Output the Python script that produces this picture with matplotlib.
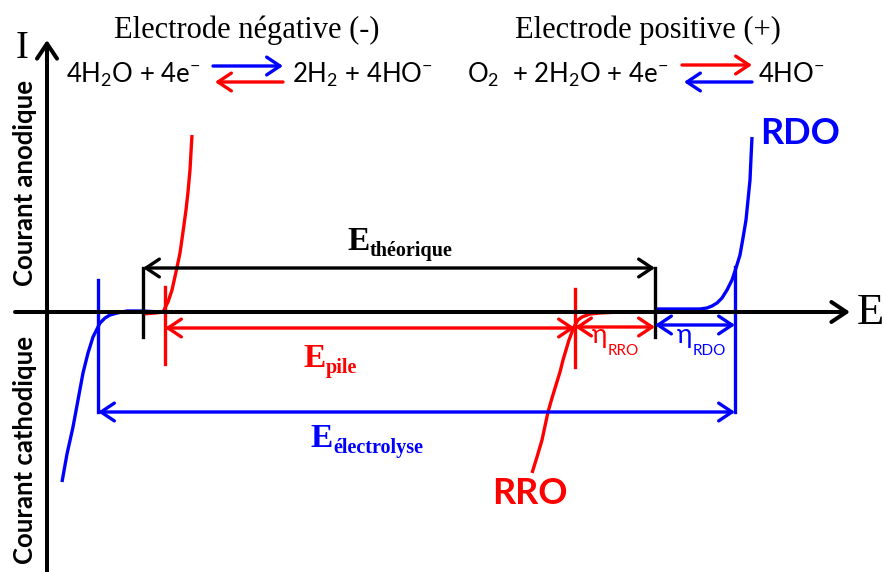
import matplotlib.pyplot as plt

plt.rcParams['mathtext.default'] = 'regular'

SERIF = 'Liberation Serif'
SANS = 'Lato'
RED = '#ff0000'
BLUE = '#0000ff'

# E (potential) / I (current) points, arbitrary units
# red: oxidation of H2 (left) and reduction of O2 (RRO, right)
h2_ox_E = [96, 108, 116, 121, 125, 129, 133, 136, 139, 141, 143, 144, 145]
h2_ox_I = [-2, -1, 0, 10, 22, 40, 59, 80, 102, 120, 142, 160, 177]
rro_E = [485, 490, 495, 498, 501, 505, 509, 513, 516, 519, 522, 525, 528, 531, 535, 543, 553, 573, 603]
rro_I = [-161, -145, -128, -114, -100, -86, -73, -60, -48, -38, -28, -20, -13, -8, -5, -2, -1, 0, 0]
# blue: reduction of water (left) and oxidation of water (RDO, right)
h2o_red_E = [15, 20, 26, 31, 36, 41, 46, 50, 53, 58, 63, 70, 80, 95, 113]
h2o_red_I = [-170, -142, -115, -88, -61, -41, -25, -17, -11, -6, -3, -1, 1, 1, 0]
rdo_E = [608, 630, 653, 660, 665, 670, 675, 680, 685, 689, 693, 696, 699, 701, 703, 704, 705]
rdo_I = [3, 3, 3, 4, 6, 9, 14, 22, 32, 44, 57, 74, 92, 112, 132, 154, 175]

# potential markers (left, right) and their vertical extent
E_theo = [96, 608]
E_pile = [118, 528]
E_elec = [51, 688]
theo_span = [(-25, 44), (-25, 44)]
pile_span = [(-52, 25), (-55, 23)]
elec_span = [(-100, 32), (-100, 45)]
theo_level = 44
pile_level = -16
eta_rro_level = -15
eta_rdo_level = -13
elec_level = -100


def arrow(ax, x0, y0, x1, y1, color, style='<->', lw=2.4, scale=16):
    ax.annotate('', xy=(x1, y1), xytext=(x0, y0),
                arrowprops=dict(arrowstyle=style + ',head_length=0.6,head_width=0.4',
                                color=color, lw=lw, shrinkA=0, shrinkB=0,
                                mutation_scale=scale))


def sub_label(ax, x, y, main, sub, color, family, size, sub_size, weight='bold', dy=1):
    t = ax.text(x, y, main, color=color, family=family, size=size,
                weight=weight, ha='left', va='baseline')
    ax.annotate(sub, xy=(1, 0), xycoords=t, xytext=(0.5, dy),
                textcoords='offset points', color=color, family=family,
                size=sub_size, weight=weight, ha='left', va='baseline')


fig = plt.figure(figsize=(8.84, 5.72), dpi=100)
ax = fig.add_axes([0, 0, 1, 1])
ax.set_xlim(-47, 837)
ax.set_ylim(-260, 312)
ax.axis('off')

# axes
arrow(ax, -32, 0, 803, 0, 'black', style='->', lw=2.9, scale=18)
arrow(ax, 0, -262, 0, 272, 'black', style='->', lw=2.9, scale=18)
ax.text(810, -1, 'E', family=SERIF, size=32, ha='left', va='center')
ax.text(-25, 264, 'I', family=SERIF, size=28, ha='center', va='center')
ax.text(-22, 129, 'Courant anodique', family=SANS, weight='bold', size=18.5,
        rotation=90, ha='center', va='center')
ax.text(-22, -138, 'Courant cathodique', family=SANS, weight='bold', size=18.5,
        rotation=90, ha='center', va='center')

# curves
ax.plot(h2o_red_E, h2o_red_I, color=BLUE, lw=2.4, solid_capstyle='butt')
ax.plot(rdo_E, rdo_I, color=BLUE, lw=2.4, solid_capstyle='butt')
ax.plot(h2_ox_E, h2_ox_I, color=RED, lw=2.4, solid_capstyle='butt')
ax.plot(rro_E, rro_I, color=RED, lw=2.4, solid_capstyle='butt')

# potential markers
for E, span in zip(E_theo, theo_span):
    ax.plot([E, E], span, color='black', lw=2.4)
for E, span in zip(E_pile, pile_span):
    ax.plot([E, E], span, color=RED, lw=2.4)
for E, span in zip(E_elec, elec_span):
    ax.plot([E, E], span, color=BLUE, lw=2.4)

arrow(ax, E_theo[0], theo_level, E_theo[1], theo_level, 'black')
arrow(ax, E_pile[0], pile_level, E_pile[1], pile_level, RED)
arrow(ax, E_pile[1], eta_rro_level, E_theo[1], eta_rro_level, RED)
arrow(ax, E_theo[1], eta_rdo_level, E_elec[1], eta_rdo_level, BLUE)
arrow(ax, E_elec[0], elec_level, E_elec[1], elec_level, BLUE)

sub_label(ax, 300, 62, 'E', 'théorique', 'black', SERIF, 24, 14.5)
sub_label(ax, 256, -55, 'E', 'pile', RED, SERIF, 24, 14.5)
sub_label(ax, 263, -135, 'E', 'électrolyse', BLUE, SERIF, 24, 14.5)
sub_label(ax, 545, -31, 'η', 'RRO', RED, SANS, 19, 11, weight='normal', dy=-5)
sub_label(ax, 630, -31, 'η', 'RDO', BLUE, SANS, 19, 11, weight='normal', dy=-5)

ax.text(713, 179, 'RDO', color=BLUE, family=SANS, weight='bold', size=26,
        ha='left', va='center')
ax.text(445, -181, 'RRO', color=RED, family=SANS, weight='bold', size=26,
        ha='left', va='center')

# electrode half reactions
ax.text(200, 282, 'Electrode négative (-)', family=SERIF, size=22,
        ha='center', va='center')
ax.text(601, 282, 'Electrode positive (+)', family=SERIF, size=22,
        ha='center', va='center')
ax.text(19, 237, '4H$_2$O + 4e$^{-}$', family=SANS, size=18.5, ha='left', va='center')
ax.text(245, 237, '2H$_2$ + 4HO$^{-}$', family=SANS, size=18.5, ha='left', va='center')
ax.text(420, 237, 'O$_2$  + 2H$_2$O + 4e$^{-}$', family=SANS, size=18.5, ha='left', va='center')
ax.text(711, 237, '4HO$^{-}$', family=SANS, size=18.5, ha='left', va='center')
arrow(ax, 166, 246, 236, 246, BLUE, style='->', lw=2.4, scale=16)
arrow(ax, 236, 230, 168, 230, RED, style='->', lw=2.4, scale=16)
arrow(ax, 635, 247, 705, 247, RED, style='->', lw=2.4, scale=16)
arrow(ax, 705, 230, 637, 230, BLUE, style='->', lw=2.4, scale=16)

fig.savefig('out.png', dpi=100)
